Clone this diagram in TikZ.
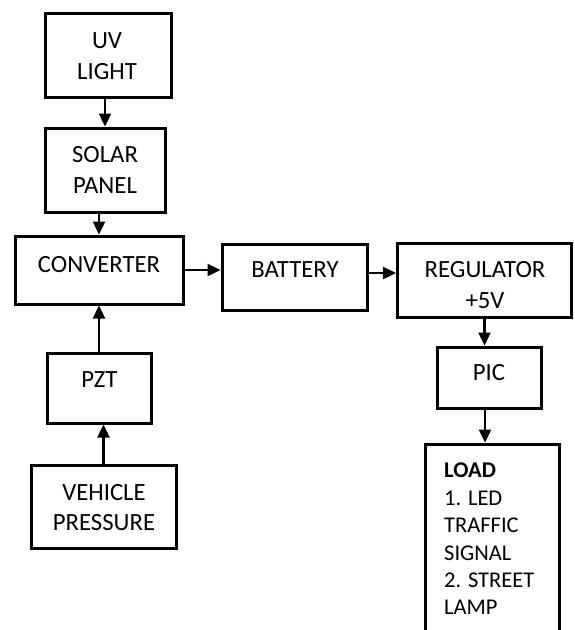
\documentclass[tikz,border=0pt]{standalone}
\usepackage{fontspec}
\setmainfont{Carlito}
\usetikzlibrary{arrows.meta,calc}
\begin{document}
\begin{tikzpicture}[x=1pt,y=-1pt,
  box/.style={draw, line width=3pt, inner sep=0pt},
  txt/.style={align=center, inner sep=0pt, font=\fontsize{24.75}{30.5}\selectfont},
  loadtxt/.style={align=left, inner sep=0pt, font=\fontsize{22.5}{27.4}\selectfont},
  arr/.style={line width=2.4pt, -{Triangle[length=13pt,width=12pt]}}]
\useasboundingbox (0,0) rectangle (574,630);
% boxes
\node[box, minimum width=126pt, minimum height=84pt] (uv) at (108,55) {};
\node[box, minimum width=120pt, minimum height=84pt] (solar) at (105,170) {};
\node[box, minimum width=168pt, minimum height=68pt] (conv) at (99,270) {};
\node[box, minimum width=145pt, minimum height=66pt] (bat) at (294.5,277) {};
\node[box, minimum width=174pt, minimum height=74pt] (reg) at (484.5,280) {};
\node[box, minimum width=104pt, minimum height=61pt] (pic) at (489,377.5) {};
\node[box, minimum width=104pt, minimum height=70pt] (pzt) at (99,388) {};
\node[box, minimum width=145pt, minimum height=83pt] (veh) at (103.5,506.5) {};
\node[box, minimum width=134pt, minimum height=200pt] (load) at (492,544) {};
% texts
\node[txt] (uvt) at (107,56) {UV\\LIGHT};
\node[txt] (solart) at (105,170) {SOLAR\\PANEL};
\node[txt] (convt) at (99,265) {CONVERTER};
\node[txt] (batt) at (295,270) {BATTERY};
\node[txt] (regt) at (485,285) {REGULATOR\\+5V};
\node[txt] (pict) at (489,373) {PIC};
\node[txt] (pztt) at (99.5,380) {PZT};
\node[txt] (veht) at (104,507.5) {VEHICLE\\PRESSURE};
\node[loadtxt, anchor=north west] (loadt) at (444,463) {\textbf{LOAD}\\1. LED\\TRAFFIC\\SIGNAL\\2. STREET\\LAMP};
% connectors
\draw[arr] (uv.south -| solar.north) -- (solar.north);
\draw[arr] (solar.south -| conv.north) -- (conv.north);
\draw[arr] (pzt.north) -- (conv.south);
\draw[arr] (veh.north) -- (veh.north |- pzt.south);
\draw[arr] (conv.east) -- (conv.east -| bat.west);
\draw[arr] ([yshift=4pt]bat.east) -- ([yshift=4pt]bat.east -| reg.west);
\draw[arr] (reg.south) -- (reg.south |- pic.north);
\draw[arr] ([xshift=-4pt]pic.south) -- ([xshift=-4pt]pic.south |- load.north);
\end{tikzpicture}
\end{document}
